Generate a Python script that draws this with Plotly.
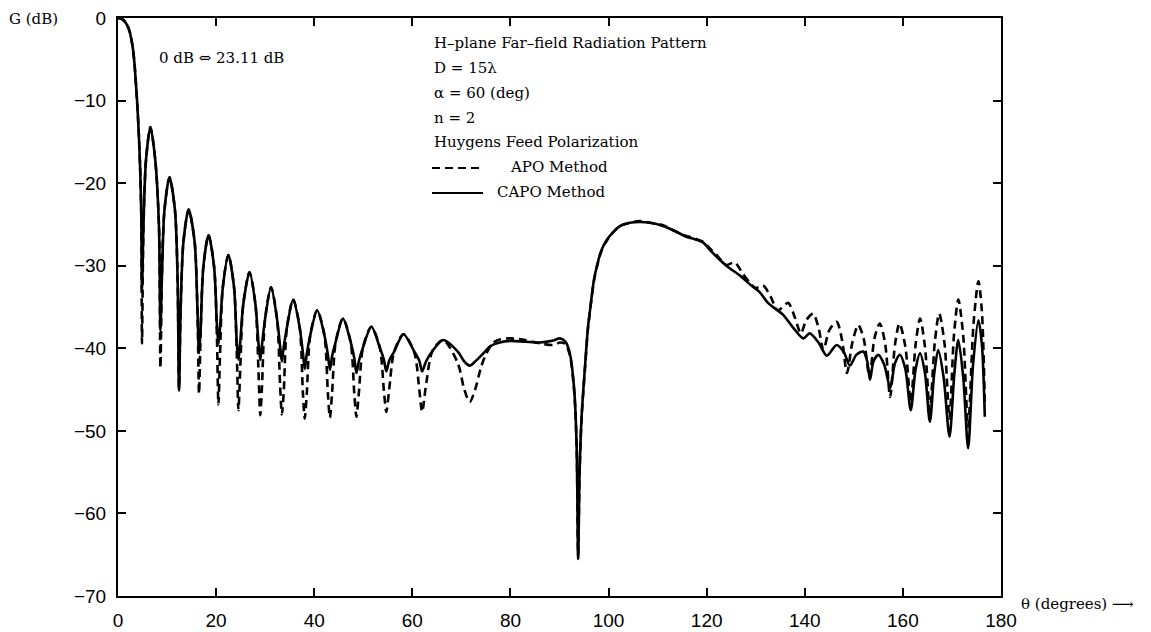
import plotly.graph_objects as go

# ---------------- data ----------------
capo_theta = [0, 1.0, 1.8, 2.3, 2.73, 3.1, 3.41, 3.87, 4.2, 4.5, 4.75, 4.89,
              5.19, 5.72, 6.6, 7.58, 8.35, 8.65,
              8.95, 9.48, 10.5, 11.6, 12.14, 12.44,
              12.77, 13.34, 14.4, 15.62, 16.19, 16.52,
              16.84, 17.39, 18.45, 19.6, 20.15, 20.47,
              20.8, 21.37, 22.5, 23.65, 24.22, 24.55,
              24.9, 25.53, 26.8, 28.02, 28.64, 29.0,
              29.35, 29.97, 31.2, 32.43, 33.05, 33.4,
              33.77, 34.43, 35.7, 37.04, 37.7, 38.07,
              38.48, 39.2, 40.6, 42.07, 42.79, 43.2,
              43.63, 44.39, 45.85, 47.41, 48.17, 48.6,
              49.09, 49.94, 51.65, 53.36, 54.21, 54.7,
              55.28, 56.3, 58.2, 60.4, 61.42, 62.0,
              62.78, 64.13, 66.3, 69.27, 70.6, 71.7,
              72.8, 74.5, 76.0, 77.8, 80.0, 83.0, 86.0, 88.5, 90.1, 91.2, 92.1,
              93.0, 93.5, 93.8, 94.1, 94.5, 95.2, 95.8, 96.2, 97.0, 97.6, 98.5,
              99.6, 101.0, 102.3, 104.3, 106.4, 108.5, 111.1, 113.5, 115.9, 117.6,
              119.3, 120.5, 122.0, 124.0, 126.8, 128.7, 130.8, 132.5, 135.5, 137.5,
              139.7, 141.0, 142.8, 144.5, 146.5, 148.0, 149.2, 150.5, 151.9, 152.7,
              153.3, 154.0, 155.0, 156.2, 157.4, 158.4, 159.4, 160.5, 161.6, 162.6,
              163.5, 164.5, 165.5, 166.4, 167.2, 168.3, 169.5, 170.5, 171.3, 172.3,
              173.3, 174.3, 175.4, 176.1, 176.7]
capo_gain = [0, -0.2, -0.8, -1.5, -2.6, -4.0, -5.9, -9.9, -13.5, -18.0, -24.0, -33.0,
             -25.2, -17.1, -13.2, -17.1, -25.2, -37.8,
             -31.3, -23.2, -19.3, -23.2, -31.3, -45.1,
             -35.2, -27.1, -23.2, -27.1, -35.2, -40.6,
             -37.8, -30.2, -26.3, -30.2, -37.0, -39.5,
             -37.5, -32.6, -28.7, -32.6, -39.4, -41.4,
             -39.4, -34.7, -30.8, -34.7, -39.4, -41.4,
             -39.6, -36.5, -32.6, -36.5, -39.8, -41.6,
             -39.9, -37.5, -34.1, -37.5, -40.6, -42.5,
             -40.7, -38.4, -35.4, -38.4, -40.8, -42.6,
             -41.0, -39.2, -36.4, -39.2, -41.2, -43.0,
             -41.6, -39.9, -37.4, -39.9, -41.4, -42.8,
             -41.5, -40.4, -38.3, -40.4, -41.5, -42.8,
             -41.6, -40.3, -39.0, -40.4, -41.6, -42.1,
             -41.6, -40.6, -39.7, -39.3, -39.1, -39.2, -39.3, -39.1, -38.8, -39.2, -40.6,
             -45.0, -52.0, -65.5, -55.0, -48.3, -42.2, -37.5, -35.5, -31.8, -30.1, -28.2,
             -26.9, -25.9, -25.2, -24.8, -24.7, -24.8, -25.2, -25.8, -26.5, -26.8,
             -27.2, -28.0, -28.9, -30.0, -31.2, -32.2, -33.2, -34.5, -35.9, -37.4,
             -38.8, -38.2, -39.3, -40.9, -39.6, -40.5, -42.1, -40.8, -40.4, -41.5,
             -43.8, -41.6, -40.8, -42.0, -44.8, -41.8, -40.8, -42.5, -47.5, -42.5,
             -40.6, -43.0, -48.9, -43.0, -40.2, -43.5, -50.7, -43.0, -39.0, -43.5,
             -52.1, -42.0, -36.6, -39.5, -48.3]

apo_theta = [0, 1.0, 1.8, 2.3, 2.73, 3.1, 3.41, 3.87, 4.2, 4.5, 4.75, 4.89,
             5.19, 5.72, 6.6, 7.58, 8.35, 8.65,
             8.95, 9.48, 10.5, 11.6, 12.14, 12.44,
             12.77, 13.34, 14.4, 15.62, 16.19, 16.52,
             16.84, 17.39, 18.45, 19.6, 20.15, 20.47,
             20.8, 21.37, 22.5, 23.65, 24.22, 24.55,
             24.9, 25.53, 26.8, 28.02, 28.64, 29.0,
             29.35, 29.97, 31.2, 32.43, 33.05, 33.4,
             33.77, 34.43, 35.7, 37.04, 37.7, 38.07,
             38.48, 39.2, 40.6, 42.07, 42.79, 43.2,
             43.63, 44.39, 45.85, 47.41, 48.17, 48.6,
             49.09, 49.94, 51.65, 53.36, 54.21, 54.7,
             55.28, 56.3, 58.2, 60.4, 61.42, 62.0,
             62.78, 64.13, 66.3, 69.27, 70.6, 71.7,
             72.8, 74.0, 75.1, 76.5, 78.0, 80.0, 83.0, 86.0, 88.7, 90.1, 91.2, 92.1,
             93.0, 93.5, 93.8, 94.1, 94.5, 95.2, 95.8, 96.2, 97.0, 97.6, 98.5,
             99.6, 101.0, 102.3, 104.3, 106.4, 108.5, 111.1, 113.5, 115.9, 117.6,
             119.3, 120.5, 122.0, 124.0, 125.7, 127.3, 128.7, 130.0, 131.5, 133.0,
             134.5, 136.6, 138.0, 139.2, 140.3, 141.7, 142.8, 143.8, 145.0, 146.5,
             147.6, 148.6, 149.7, 150.9, 152.0, 153.2, 154.2, 155.3, 156.4, 157.4,
             158.4, 159.3, 160.5, 161.6, 162.6, 163.5, 164.5, 165.5, 166.5, 167.4,
             168.5, 169.5, 170.4, 171.3, 172.3, 173.3, 174.4, 175.4, 176.1, 176.7]
apo_gain = [0, -0.2, -0.8, -1.5, -2.6, -4.0, -5.9, -9.9, -13.5, -18.0, -24.0, -39.4,
            -25.2, -17.1, -13.2, -17.1, -25.2, -42.4,
            -31.3, -23.2, -19.3, -23.2, -31.3, -44.8,
            -35.2, -27.1, -23.2, -27.1, -35.2, -45.5,
            -38.3, -30.2, -26.3, -30.2, -38.3, -46.8,
            -40.7, -32.6, -28.7, -32.6, -40.7, -47.5,
            -42.8, -34.7, -30.8, -34.7, -42.8, -48.1,
            -44.6, -36.5, -32.6, -36.5, -44.6, -48.0,
            -45.5, -37.5, -34.1, -37.5, -45.5, -48.5,
            -45.5, -38.4, -35.4, -38.4, -45.5, -48.4,
            -45.5, -39.2, -36.4, -39.2, -45.5, -48.3,
            -45.5, -39.9, -37.4, -39.9, -45.2, -47.7,
            -45.0, -40.4, -38.3, -40.5, -45.0, -47.7,
            -44.5, -40.3, -39.0, -41.8, -45.0, -46.5,
            -45.0, -42.3, -40.6, -39.3, -38.9, -38.8, -39.0, -39.4, -39.6, -39.3, -39.5, -40.8,
            -45.3, -52.0, -65.0, -55.0, -48.5, -42.4, -37.6, -35.6, -31.9, -30.2, -28.3,
            -27.0, -25.9, -25.2, -24.8, -24.6, -24.8, -25.1, -25.8, -26.4, -26.7,
            -27.1, -27.8, -28.7, -29.9, -29.6, -30.9, -32.0, -32.7, -32.4, -33.7,
            -35.4, -34.5, -36.3, -38.2, -36.6, -35.8, -37.5, -40.2, -37.8, -36.8,
            -39.0, -43.0, -39.3, -37.2, -38.8, -43.5, -38.8, -37.0, -39.5, -45.9,
            -39.5, -37.0, -39.8, -46.5, -39.5, -36.4, -39.8, -47.5, -39.3, -35.8,
            -39.5, -48.5, -38.5, -34.1, -38.5, -49.5, -37.0, -31.9, -35.5, -47.0]

x_ticks = [0, 20, 40, 60, 80, 100, 120, 140, 160, 180]
y_ticks = [0, -10, -20, -30, -40, -50, -60, -70]

legend_lines = ["H\u2013plane Far\u2013field Radiation Pattern",
                "D = 15\u03bb",
                "\u03b1 = 60 (deg)",
                "n = 2",
                "Huygens Feed Polarization"]
apo_label = "APO Method"
capo_label = "CAPO Method"
gain_note = "0 dB \u21d4 23.11 dB"
y_title = "G (dB)"
x_title = "\u03b8 (degrees) \u27f6"

# ---------------- figure ----------------
# the page body adds an 8 px offset, so the figure is 8 px smaller than the window
OFF = 8
W, H = 1151 - OFF, 632 - OFF
L, R, T, B = 110, 150, 10, 36
PW, PH = W - L - R, H - T - B
PLOT_LEFT = OFF + L          # page pixel of the left axis
PLOT_BOTTOM = OFF + H - B    # page pixel of the bottom axis


def px(x):
    return (x - PLOT_LEFT) / PW


def py(y):
    return (PLOT_BOTTOM - y) / PH


fig = go.Figure()
fig.add_trace(go.Scatter(x=apo_theta, y=apo_gain, mode="lines",
                         line=dict(color="black", width=2.6, dash="8px,5px",
                                   shape="spline", smoothing=0.8),
                         name=apo_label, showlegend=False))
fig.add_trace(go.Scatter(x=capo_theta, y=capo_gain, mode="lines",
                         line=dict(color="black", width=2.6,
                                   shape="spline", smoothing=0.8),
                         name=capo_label, showlegend=False))

tickfont = dict(family="Liberation Sans, Arial, sans-serif", size=19, color="black")
serif = "DejaVu Serif, Liberation Serif, serif"
sfont = dict(family=serif, size=15, color="black")

fig.update_xaxes(range=[0, 180], tickvals=x_ticks, ticks="inside", ticklen=8,
                 tickwidth=2, tickcolor="black", showline=True, linecolor="black",
                 linewidth=2, mirror="ticks", showgrid=False, zeroline=False,
                 tickfont=tickfont, ticklabelstandoff=6, automargin=False,
                 ticklabeloverflow="allow")
fig.update_yaxes(range=[-70, 0], tickvals=y_ticks, ticks="inside", ticklen=8,
                 tickwidth=2, tickcolor="black", showline=True, linecolor="black",
                 linewidth=2, mirror="ticks", showgrid=False, zeroline=False,
                 tickfont=tickfont, ticklabelstandoff=6, automargin=False,
                 ticklabeloverflow="allow")

ann = []
ann.append(dict(text=y_title, xref="paper", yref="paper", x=px(7), y=py(19),
                xanchor="left", yanchor="middle", showarrow=False, font=sfont))
ann.append(dict(text=x_title, xref="paper", yref="paper",
                x=px(1019), y=py(604), xanchor="left", yanchor="middle",
                showarrow=False, font=sfont))
ann.append(dict(text=gain_note, xref="paper", yref="paper", x=px(157), y=py(58),
                xanchor="left", yanchor="middle", showarrow=False, font=sfont))
ys = [43, 68, 93, 118, 142]
for t, yy in zip(legend_lines, ys):
    ann.append(dict(text=t, xref="paper", yref="paper", x=px(432), y=py(yy),
                    xanchor="left", yanchor="middle", showarrow=False, font=sfont))
ann.append(dict(text=apo_label, xref="paper", yref="paper", x=px(508), y=py(167),
                xanchor="left", yanchor="middle", showarrow=False, font=sfont))
ann.append(dict(text=capo_label, xref="paper", yref="paper", x=px(495), y=py(192),
                xanchor="left", yanchor="middle", showarrow=False, font=sfont))

shapes = [
    dict(type="line", xref="paper", yref="paper", x0=px(432), x1=px(482),
         y0=py(168), y1=py(168), line=dict(color="black", width=2, dash="8px,5px")),
    dict(type="line", xref="paper", yref="paper", x0=px(432), x1=px(483),
         y0=py(193), y1=py(193), line=dict(color="black", width=2)),
]

fig.update_layout(width=W, height=H, margin=dict(l=L, r=R, t=T, b=B, autoexpand=False),
                  paper_bgcolor="white", plot_bgcolor="white",
                  annotations=ann, shapes=shapes, showlegend=False)

fig.write_html("out.html")
